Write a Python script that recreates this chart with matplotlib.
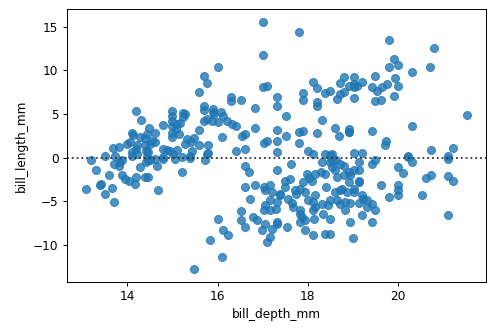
import numpy as np
import matplotlib
matplotlib.use("Agg")
import matplotlib.pyplot as plt

# Residuals of bill_length_mm regressed on bill_depth_mm, grouped by region of the plot

# Shallow-billed group (left cloud)
left_depth = [13.09, 13.20, 13.31, 13.39, 13.50, 13.50, 13.59, 13.67, 13.70, 13.68,
              13.81, 13.70, 13.81, 13.85, 13.88, 13.73, 13.88, 13.96, 14.03, 14.19,
              14.18, 13.99, 14.07, 14.10, 14.10, 14.20, 14.21, 14.21, 14.10, 14.12,
              14.20, 14.30, 14.29, 14.40, 14.40, 14.51, 14.44, 14.49, 14.62, 14.55,
              14.62, 14.42, 14.47, 14.44, 14.47, 14.62, 14.80, 14.29, 14.42, 14.51,
              14.66, 14.40, 14.47, 14.69, 14.80, 14.80, 14.88, 14.95, 15.11, 14.99,
              14.99, 15.08, 15.14, 15.00, 15.00, 15.00, 15.00, 15.23, 15.29, 15.23,
              15.17, 15.10, 15.32, 15.49, 15.41, 15.28, 15.59, 15.80, 15.60, 15.71,
              15.77, 15.71, 15.71, 15.91, 15.93, 15.87, 15.91, 16.07, 16.13, 16.02,
              16.21, 16.32, 16.41, 16.09, 15.71, 15.77, 15.60, 16.02, 15.39, 15.43,
              15.76, 15.06, 15.21, 15.39, 15.73, 15.02, 14.80, 15.21, 15.80, 13.42,
              16.29, 16.29, 16.51, 16.82, 16.54, 16.60, 16.82, 16.41, 16.60]
left_resid = [-3.67, -0.34, -1.49, -3.10, 0.23, -4.20, -2.06, -3.45, -5.15, 1.07,
              1.18, -0.72, -0.92, -0.54, -0.34, 0.23, -2.06, -2.44, -2.64, -2.26,
              -3.02, 1.57, 1.75, 0.61, 0.23, 1.00, 1.38, 0.42, 2.79, 2.55,
              5.39, 4.36, 2.33, 2.21, 1.38, 1.57, 2.72, 3.36, 2.79, 1.95,
              1.75, 0.80, 0.61, 0.03, -0.23, -0.15, 0.03, -1.11, -0.54, -0.34,
              -1.00, -2.26, -2.26, -3.78, 3.75, 1.00, 0.92, 0.80, 0.92, 2.33,
              2.83, 3.29, 2.72, 5.39, 4.82, 4.24, 3.67, 5.13, 5.01, 4.62,
              3.98, 3.86, 2.14, 2.21, 1.75, 1.57, 1.46, 1.46, 3.21, 4.24,
              4.44, 5.96, 5.50, 5.58, 5.01, 4.24, 5.20, 5.20, 4.82, 4.05,
              4.24, 3.86, 3.67, 2.33, 9.40, 8.57, 7.53, 10.44, 0.23, 0.80,
              0.42, -0.15, 0.03, -0.08, -0.34, 0.42, -0.15, -1.68, 0.54, -3.02,
              7.00, 6.54, 6.65, 5.66, 2.52, 2.72, 3.36, 0.80, 1.00]

# Long-billed group (upper right cloud)
upper_depth = [17.00, 17.81, 17.00, 17.00, 17.09, 17.31, 17.31, 17.52, 18.12, 18.20,
               17.90, 17.90, 18.20, 18.20, 18.38, 18.49, 18.64, 18.70, 18.80, 18.80,
               18.90, 18.32, 19.01, 19.01, 19.08, 19.19, 19.01, 18.71, 19.41, 19.49,
               19.52, 19.49, 19.62, 19.63, 19.74, 19.80, 19.91, 20.00, 19.93, 20.00,
               19.91, 20.30, 20.30, 19.80, 20.80, 20.70, 19.01, 21.52, 18.92, 18.92,
               19.41, 19.73, 20.72, 21.22, 19.01, 19.19, 20.22, 21.11, 19.71, 17.02,
               17.09, 17.31, 17.31, 17.52, 17.81, 17.90, 17.81, 18.20, 18.60, 18.68,
               18.90, 18.01, 18.12, 18.49, 17.31, 18.53, 18.38]
upper_resid = [15.60, 14.45, 11.81, 8.14, 8.26, 7.00, 5.96, 4.82, 8.64, 7.95,
               7.42, 6.65, 6.34, 5.96, 7.42, 7.68, 6.73, 8.57, 9.29, 7.57,
               8.26, 4.36, 9.29, 8.45, 8.26, 8.64, 6.84, 7.30, 8.14, 9.40,
               7.68, 6.54, 6.61, 8.07, 8.45, 10.36, 11.32, 10.67, 9.14, 8.26,
               7.11, 9.78, 3.67, 13.50, 12.58, 10.36, 8.07, 4.93, 3.29, 2.90,
               3.10, 1.84, 0.92, 1.07, 0.54, 0.54, 0.23, 0.23, 1.38, 1.69,
               1.95, 3.21, 1.95, 2.52, 2.98, 3.10, 1.69, 2.79, 3.36, 2.52,
               2.98, 0.80, 0.42, 0.31, 0.61, 0.42, 0.42]

# Short-billed group (lower right cloud)
lower_depth = [18.53, 18.53, 18.60, 18.64, 18.79, 18.90, 19.01, 19.12, 19.12, 18.90,
               19.01, 18.71, 18.60, 18.64, 18.82, 19.19, 19.30, 19.41, 19.49, 19.19,
               18.93, 19.41, 18.99, 18.49, 18.82, 18.71, 18.93, 19.12, 19.23, 19.30,
               18.75, 18.86, 19.12, 19.41, 19.49, 20.22, 20.30, 21.11, 20.00, 20.10,
               20.62, 20.72, 21.11, 21.22, 19.61, 20.00, 20.00, 20.00, 19.80, 20.52,
               21.11, 18.93, 19.12, 19.01, 18.31, 18.49, 17.63, 16.60, 16.70, 17.31,
               17.50, 17.61, 17.97, 18.03, 18.16, 18.29, 18.38, 18.09, 18.40, 16.60,
               16.82, 16.72, 17.02, 17.05, 17.16, 17.20, 17.38, 17.57, 17.72, 17.73,
               17.83, 17.90, 17.94, 18.01, 18.12, 18.16, 18.32, 18.49, 17.64, 17.66,
               17.83, 17.86, 17.94, 18.12, 18.14, 18.34, 18.49, 18.38, 18.12, 17.94,
               17.83, 17.53, 17.31, 17.20, 17.16, 17.09, 16.98, 17.05, 16.87, 16.79,
               17.02, 17.05, 17.16, 17.29, 16.52, 16.52, 16.61, 16.11, 16.23, 16.02,
               17.31, 15.84, 16.09, 17.16, 17.31, 17.83, 18.44, 18.16, 17.50, 17.38,
               15.49, 18.62, 18.71, 18.80]
lower_resid = [-0.34, -1.11, -1.49, -2.26, -2.06, -1.68, -1.49, -1.49, -2.83, -2.83,
               -3.98, -3.78, -3.98, -4.93, -5.12, -4.36, -4.93, -5.31, -6.08, -6.65,
               -7.42, -7.42, -9.25, -8.75, -6.08, -5.31, -5.20, -5.20, -4.74, -5.70,
               -3.59, -3.98, -0.46, -0.72, -0.34, 0.03, -0.54, -0.15, -1.11, -1.75,
               -2.37, -1.98, -2.14, -2.64, -3.13, -3.21, -3.78, -4.28, -4.55, -4.36,
               -6.65, -2.06, -2.64, -3.59, -0.54, -0.54, -0.80, -1.03, -1.68, -1.41,
               -2.64, -2.44, -1.87, -2.33, -1.87, -1.68, -1.87, -2.64, -3.33, -3.33,
               -3.21, -4.74, -3.33, -3.78, -3.21, -3.98, -4.17, -4.74, -3.78, -4.24,
               -3.59, -2.83, -3.98, -4.93, -5.12, -4.36, -5.31, -4.93, -5.24, -5.70,
               -6.08, -6.84, -7.22, -6.00, -7.03, -6.46, -7.03, -8.75, -8.94, -8.37,
               -7.42, -7.99, -7.42, -8.18, -9.14, -9.71, -8.37, -7.68, -7.22, -6.84,
               -6.00, -5.50, -6.08, -5.89, -6.15, -7.22, -7.99, -8.37, -8.94, -7.03,
               -5.12, -9.52, -11.43, -4.93, -7.60, -6.46, -5.50, -5.70, -3.40, -4.36,
               -12.84, -0.34, -0.80, -1.03]

depth = np.concatenate([left_depth, upper_depth, lower_depth])
resid = np.concatenate([left_resid, upper_resid, lower_resid])

plt.rcParams["font.family"] = "DejaVu Sans"
plt.rcParams["font.size"] = 10

fig = plt.figure(figsize=(497 / 87, 329 / 87), dpi=87)
ax = fig.add_axes([67 / 497, 1 - 281.7 / 329, (486 - 67) / 497, (281.7 - 9.3) / 329])

ax.scatter(depth, resid, s=44, color="#1f77b4", alpha=0.8, edgecolors="face", linewidths=0.8)
ax.axhline(0, ls=":", c=".2")

ax.set_xlabel("bill_depth_mm")
ax.set_ylabel("bill_length_mm")

fig.savefig("out.png", dpi=87)
